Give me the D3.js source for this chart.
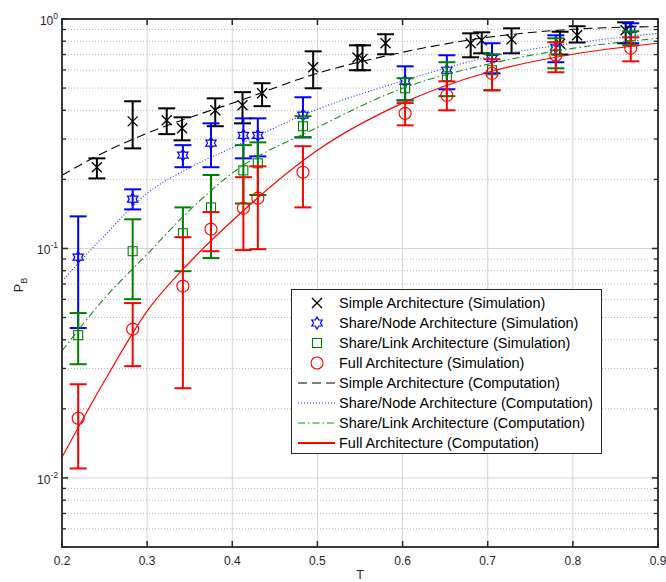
<!DOCTYPE html>
<html>
<head>
<meta charset="utf-8">
<script src="https://cdn.jsdelivr.net/npm/d3@7"></script>
<style>
    body { margin: 0; background: #fff; }
    svg { display: block; font-family: "Liberation Sans", Arial, sans-serif; }
</style>
</head>
<body>
<svg id="chart"></svg>
<script>
// ---- simulation points (T, P_B, lower / upper error bound) ----
const simpleSimT  = [0.241, 0.283, 0.323, 0.341, 0.38, 0.412, 0.435, 0.495, 0.547, 0.553, 0.58, 0.68, 0.693, 0.728, 0.785, 0.805, 0.862]
const simpleSimP  = [0.226, 0.358, 0.362, 0.334, 0.400, 0.421, 0.475, 0.616, 0.68, 0.67, 0.784, 0.784, 0.808, 0.816, 0.78, 0.85, 0.893]
const simpleSimLo = [0.202, 0.273, 0.315, 0.296, 0.341, 0.351, 0.417, 0.499, 0.598, 0.598, 0.702, 0.681, 0.709, 0.709, 0.70, 0.79, 0.784]
const simpleSimHi = [0.247, 0.438, 0.408, 0.373, 0.451, 0.480, 0.525, 0.723, 0.768, 0.768, 0.858, 0.866, 0.875, 0.911, 0.88, 0.93, 0.967]

const groupT = [0.219, 0.283, 0.342, 0.375, 0.413, 0.43, 0.483, 0.603, 0.652, 0.705, 0.78, 0.868]

const nodeSimP  = [0.0916, 0.164, 0.255, 0.288, 0.311, 0.311, 0.381, 0.535, 0.598, 0.674, 0.753, 0.902]
const nodeSimLo = [0.045, 0.148, 0.226, 0.226, 0.247, 0.252, 0.305, 0.442, 0.494, 0.580, 0.648, 0.784]
const nodeSimHi = [0.138, 0.181, 0.282, 0.351, 0.369, 0.369, 0.456, 0.622, 0.695, 0.784, 0.849, 0.958]

const linkSimP  = [0.0419, 0.0973, 0.1166, 0.151, 0.219, 0.235, 0.341, 0.499, 0.563, 0.598, 0.731, 0.841]
const linkSimLo = [0.0313, 0.0601, 0.0796, 0.0908, 0.157, 0.171, 0.305, 0.442, 0.461, 0.489, 0.610, 0.768]
const linkSimHi = [0.0523, 0.134, 0.151, 0.209, 0.282, 0.290, 0.377, 0.552, 0.648, 0.702, 0.824, 0.884]

const fullSimP  = [0.0182, 0.0445, 0.0685, 0.1214, 0.1498, 0.1657, 0.215, 0.388, 0.465, 0.580, 0.695, 0.746]
const fullSimLo = [0.0110, 0.0307, 0.0246, 0.0973, 0.0984, 0.0993, 0.151, 0.344, 0.400, 0.489, 0.586, 0.654]
const fullSimHi = [0.0256, 0.0578, 0.112, 0.144, 0.2045, 0.228, 0.279, 0.430, 0.535, 0.668, 0.792, 0.832]

// ---- computation curves ----
const compT      = [0.2, 0.25, 0.3, 0.35, 0.4, 0.5, 0.6, 0.7, 0.8, 0.9]
const simpleComp = [0.2086, 0.2627, 0.3178, 0.372, 0.4295, 0.580, 0.716, 0.832, 0.902, 0.927]
const nodeComp   = [0.0721, 0.114, 0.174, 0.225, 0.275, 0.404, 0.537, 0.681, 0.784, 0.866]
const linkComp   = [0.0358, 0.0607, 0.0944, 0.147, 0.213, 0.337, 0.499, 0.635, 0.745, 0.824]
const fullComp   = [0.0123, 0.0265, 0.0533, 0.0871, 0.132, 0.268, 0.430, 0.586, 0.702, 0.784]

const xTicks = [0.2, 0.3, 0.4, 0.5, 0.6, 0.7, 0.8, 0.9]
const yDecades = [-2, -1, 0]

const legendLabels = [
    'Simple Architecture (Simulation)',
    'Share/Node Architecture (Simulation)',
    'Share/Link Architecture (Simulation)',
    'Full Architecture (Simulation)',
    'Simple Architecture (Computation)',
    'Share/Node Architecture (Computation)',
    'Share/Link Architecture (Computation)',
    'Full Architecture (Computation)'
]

const zip = (t, p, lo, hi) => t.map((d, i) => ({t: d, p: p[i], lo: lo[i], hi: hi[i]}))

const simSeries = [
    {marker: 'x', color: '#000000', data: zip(simpleSimT, simpleSimP, simpleSimLo, simpleSimHi)},
    {marker: 'hex', color: '#0000ff', data: zip(groupT, nodeSimP, nodeSimLo, nodeSimHi)},
    {marker: 'square', color: '#008000', data: zip(groupT, linkSimP, linkSimLo, linkSimHi)},
    {marker: 'circle', color: '#ff0000', data: zip(groupT, fullSimP, fullSimLo, fullSimHi)}
]

const compSeries = [
    {color: '#000000', dash: '9,5', width: 1.1, values: simpleComp},
    {color: '#2a2aff', dash: '1,2', width: 1.1, values: nodeComp},
    {color: '#1a8a1a', dash: '7,3,1.5,3', width: 1.1, values: linkComp},
    {color: '#ff0000', dash: null, width: 1.2, values: fullComp}
]

class BlockingPlot {
    constructor(_config) {
        this.config = {
            parentElement: _config.parentElement,
            containerWidth: 666,
            containerHeight: 582,
            margin: {top: 19, right: 8, bottom: 35, left: 62},
        }
        this.axisColor = '#262626'
        this.initVis()
    }

    initVis() {
        let vis = this

        vis.width = vis.config.containerWidth - vis.config.margin.left - vis.config.margin.right
        vis.height = vis.config.containerHeight - vis.config.margin.top - vis.config.margin.bottom

        vis.svg = d3.select(vis.config.parentElement)
            .attr('width', vis.config.containerWidth)
            .attr('height', vis.config.containerHeight)

        vis.chart = vis.svg.append('g')
            .attr('transform', `translate(${vis.config.margin.left}, ${vis.config.margin.top})`)

        vis.xScale = d3.scaleLinear().domain([0.2, 0.9]).range([0, vis.width])
        vis.yScale = d3.scaleLog().domain([0.005, 1]).range([vis.height, 0])

        // minor values of the log axis
        vis.minorY = []
        yDecades.concat([-3]).forEach(e => {
            d3.range(2, 10).forEach(k => {
                const v = k * Math.pow(10, e)
                if (v >= 0.005 && v < 1) vis.minorY.push(v)
            })
        })
        vis.majorY = yDecades.map(e => Math.pow(10, e))

        vis.renderGrid()
        vis.renderVis()
        vis.renderAxes()
        vis.renderLegend()
    }

    renderGrid() {
        let vis = this
        const grid = vis.chart.append('g').attr('class', 'grid')

        grid.selectAll('.minor-y')
            .data(vis.minorY)
            .join('line')
            .attr('x1', 0).attr('x2', vis.width)
            .attr('y1', d => vis.yScale(d)).attr('y2', d => vis.yScale(d))
            .attr('stroke', '#b8b8b8')
            .attr('stroke-width', 1)
            .attr('stroke-dasharray', '1,2')

        grid.selectAll('.major-y')
            .data(vis.majorY.filter(d => d < 1))
            .join('line')
            .attr('x1', 0).attr('x2', vis.width)
            .attr('y1', d => vis.yScale(d)).attr('y2', d => vis.yScale(d))
            .attr('stroke', '#d4d4d4')
            .attr('stroke-width', 1)

        grid.selectAll('.major-x')
            .data(xTicks.slice(1, -1))
            .join('line')
            .attr('x1', d => vis.xScale(d)).attr('x2', d => vis.xScale(d))
            .attr('y1', 0).attr('y2', vis.height)
            .attr('stroke', '#d4d4d4')
            .attr('stroke-width', 1)
    }

    hexagram(r) {
        const pts = d3.range(12).map(i => {
            const a = -Math.PI / 2 + i * Math.PI / 6
            const rr = i % 2 === 0 ? r : r / Math.sqrt(3)
            return [rr * Math.cos(a), rr * Math.sin(a)]
        })
        return d3.line()(pts) + 'Z'
    }

    drawMarker(g, type, color) {
        let vis = this
        if (type === 'x') {
            g.append('path').attr('d', 'M-5,-5L5,5M-5,5L5,-5')
                .attr('stroke', color).attr('stroke-width', 1.3).attr('fill', 'none')
        } else if (type === 'hex') {
            g.append('path').attr('d', vis.hexagram(6))
                .attr('stroke', color).attr('stroke-width', 1.2).attr('fill', 'none')
        } else if (type === 'square') {
            g.append('rect').attr('x', -4.5).attr('y', -4.5).attr('width', 9).attr('height', 9)
                .attr('stroke', color).attr('stroke-width', 1.1).attr('fill', 'none')
        } else {
            g.append('circle').attr('r', 6)
                .attr('stroke', color).attr('stroke-width', 1.1).attr('fill', 'none')
        }
    }

    renderVis() {
        let vis = this
        const capHalf = 8.5

        simSeries.forEach(s => {
            const bars = vis.chart.append('g')
                .selectAll('g')
                .data(s.data)
                .join('g')
                .attr('stroke', s.color)
                .attr('stroke-width', 2)

            bars.append('line')
                .attr('x1', d => vis.xScale(d.t)).attr('x2', d => vis.xScale(d.t))
                .attr('y1', d => vis.yScale(d.lo)).attr('y2', d => vis.yScale(d.hi))
            bars.append('line')
                .attr('x1', d => vis.xScale(d.t) - capHalf).attr('x2', d => vis.xScale(d.t) + capHalf)
                .attr('y1', d => vis.yScale(d.lo)).attr('y2', d => vis.yScale(d.lo))
            bars.append('line')
                .attr('x1', d => vis.xScale(d.t) - capHalf).attr('x2', d => vis.xScale(d.t) + capHalf)
                .attr('y1', d => vis.yScale(d.hi)).attr('y2', d => vis.yScale(d.hi))

            s.data.forEach(d => {
                const m = vis.chart.append('g')
                    .attr('transform', `translate(${vis.xScale(d.t)}, ${vis.yScale(d.p)})`)
                vis.drawMarker(m, s.marker, s.color)
            })
        })

        const line = d3.line()
            .x((d, i) => vis.xScale(compT[i]))
            .y(d => vis.yScale(d))
            .curve(d3.curveMonotoneX)

        compSeries.forEach(s => {
            vis.chart.append('path')
                .attr('d', line(s.values))
                .attr('fill', 'none')
                .attr('stroke', s.color)
                .attr('stroke-width', s.width)
                .attr('stroke-dasharray', s.dash)
        })
    }

    renderAxes() {
        let vis = this
        const ax = vis.chart.append('g').attr('class', 'axes')
        const c = vis.axisColor

        // ticks on all four sides (box on)
        xTicks.forEach(t => {
            const x = vis.xScale(t)
            ax.append('line').attr('x1', x).attr('x2', x).attr('y1', vis.height).attr('y2', vis.height - 6)
                .attr('stroke', c).attr('stroke-width', 1.5)
            ax.append('line').attr('x1', x).attr('x2', x).attr('y1', 0).attr('y2', 6)
                .attr('stroke', c).attr('stroke-width', 1.5)
            ax.append('text')
                .attr('x', x).attr('y', vis.height + 18)
                .attr('text-anchor', 'middle')
                .attr('font-size', 12)
                .attr('fill', c)
                .text(t.toFixed(1))
        })

        vis.majorY.forEach(v => {
            const y = vis.yScale(v)
            ax.append('line').attr('x1', 0).attr('x2', 6).attr('y1', y).attr('y2', y)
                .attr('stroke', c).attr('stroke-width', 1.5)
            ax.append('line').attr('x1', vis.width).attr('x2', vis.width - 6).attr('y1', y).attr('y2', y)
                .attr('stroke', c).attr('stroke-width', 1.5)
            const lbl = ax.append('text')
                .attr('x', -4).attr('y', y + 6)
                .attr('text-anchor', 'end')
                .attr('font-size', 12)
                .attr('fill', c)
            lbl.append('tspan').text('10')
            lbl.append('tspan').attr('dy', -6).attr('font-size', 8.5).text(Math.round(Math.log10(v)))
        })

        vis.minorY.forEach(v => {
            const y = vis.yScale(v)
            ax.append('line').attr('x1', 0).attr('x2', 4).attr('y1', y).attr('y2', y)
                .attr('stroke', c).attr('stroke-width', 1.3)
            ax.append('line').attr('x1', vis.width).attr('x2', vis.width - 4).attr('y1', y).attr('y2', y)
                .attr('stroke', c).attr('stroke-width', 1.3)
        })

        ax.append('rect')
            .attr('x', 0).attr('y', 0)
            .attr('width', vis.width).attr('height', vis.height)
            .attr('fill', 'none')
            .attr('stroke', c)
            .attr('stroke-width', 1.8)

        // axis titles
        ax.append('text')
            .attr('x', vis.width / 2).attr('y', vis.height + 32)
            .attr('text-anchor', 'middle')
            .attr('font-size', 12.5)
            .attr('fill', c)
            .text('T')

        const yl = ax.append('text')
            .attr('transform', `translate(${-39}, ${vis.height / 2 + 2}) rotate(-90)`)
            .attr('text-anchor', 'middle')
            .attr('font-size', 12.5)
            .attr('fill', c)
        yl.append('tspan').text('P')
        yl.append('tspan').attr('dy', 4).attr('font-size', 9).text('B')
    }

    renderLegend() {
        let vis = this
        const lg = vis.svg.append('g').attr('class', 'legend')

        lg.append('rect')
            .attr('x', 291.5).attr('y', 289.5)
            .attr('width', 310).attr('height', 164)
            .attr('fill', '#fff')
            .attr('stroke', vis.axisColor)
            .attr('stroke-width', 1)

        const rows = lg.selectAll('.row')
            .data(legendLabels)
            .join('g')
            .attr('transform', (d, i) => `translate(0, ${303 + i * 20})`)

        rows.append('text')
            .attr('x', 339).attr('y', 5)
            .attr('font-size', 14.5)
            .attr('fill', '#000')
            .text(d => d)

        rows.each(function (d, i) {
            const g = d3.select(this)
            if (i < 4) {
                const m = g.append('g').attr('transform', 'translate(317, 0)')
                vis.drawMarker(m, simSeries[i].marker, simSeries[i].color)
            } else {
                const s = compSeries[i - 4]
                g.append('line')
                    .attr('x1', 298).attr('x2', 335)
                    .attr('y1', 0).attr('y2', 0)
                    .attr('stroke', s.color)
                    .attr('stroke-width', i === 7 ? 2 : s.width)
                    .attr('stroke-dasharray', s.dash)
            }
        })
    }
}

new BlockingPlot({parentElement: '#chart'})
</script>
</body>
</html>
